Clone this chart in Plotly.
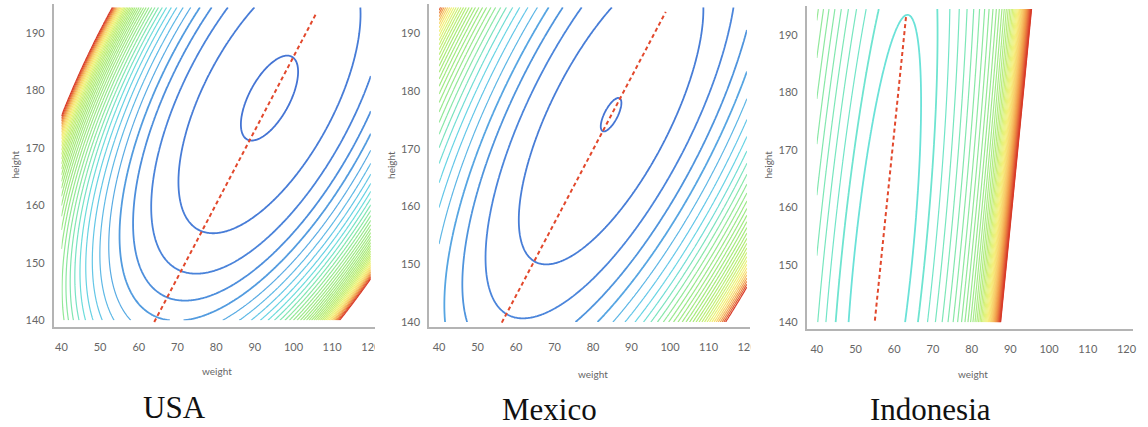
import numpy as np
import plotly.graph_objects as go

# ---------------- data ----------------
countries = ["USA", "Mexico", "Indonesia"]
weight_ticks = [40, 50, 60, 70, 80, 90, 100, 110, 120]
height_ticks = [140, 150, 160, 170, 180, 190]

grid_weight = [40.0, 120.0]
grid_height = [140.0, 194.5]

# surface parameters per country (USA, Mexico, Indonesia)
peak_weight = [93.8, 84.7, 57.1]
peak_height = [178.7, 175.9, 150.7]
ridge_slope = [0.62, 0.65, 0.148]        # kg per cm along the ridge
height_spread = [0.616, 0.4335, 0.0311]
inner_level = [33.7, 3.65, 57.0]
growth_scale = [1000.0, 1793.0, 0.0]     # 0 -> linear level spacing
level_step = [0.36, 0.174, 60.0]
outer_level = [2700.0, 3400.0, 3085.0]
wall_amp = [0.0, 0.0, 493.0]
wall_pos = [0.0, 0.0, 28.0]
wall_width = [1.0, 1.0, 2.8]

# dashed ridge lines (height, weight at both ends)
ridge_line_height = [[139.7, 193.6], [139.9, 193.7], [140.3, 193.5]]
ridge_line_weight = [[64.0, 106.0], [56.3, 98.9], [55.0, 63.1]]

# ---------------- style ----------------
W_PX, H_PX = 1148, 427
thick_levels = [5, 5, 2]
blue_to_red = [
    [0.00, '#4474d4'], [0.06, '#4a84da'], [0.10, '#5096de'], [0.14, '#5aaee4'],
    [0.19, '#64c8e8'], [0.24, '#6adce0'], [0.29, '#80e6b4'], [0.34, '#92e898'],
    [0.40, '#9ce888'], [0.55, '#a8ea78'], [0.68, '#c8f074'], [0.77, '#f2f478'],
    [0.85, '#f8d46a'], [0.92, '#f09848'], [1.00, '#d83a28']]
cyan_to_red = [
    [0.00, '#6ae2d8'], [0.05, '#74e6c4'], [0.12, '#88e8a6'], [0.20, '#9ae890'],
    [0.30, '#b4ec7c'], [0.38, '#e0f27a'], [0.46, '#f6f07c'], [0.60, '#f8c868'],
    [0.75, '#f09848'], [0.90, '#e2603a'], [1.00, '#d83a28']]
colorscales = [blue_to_red, blue_to_red, cyan_to_red]
# panel boxes in pixels: (left, right, top, bottom) and axis ranges
panel_px = [(54, 377, 4.5, 328), (431.7, 755, 4.4, 328), (811.7, 1140, 6.2, 330)]
x_ranges = [[38.0, 121.0], [37.4, 120.9], [37.4, 121.7]]
y_ranges = [[138.8, 195.0], [139.1, 195.0], [138.8, 195.0]]


def hex_rgb(h):
    h = h.lstrip('#')
    return [int(h[i:i + 2], 16) for i in (0, 2, 4)]


def color_at(stops, f):
    f = min(max(f, 0.0), 1.0)
    for (f0, c0), (f1, c1) in zip(stops[:-1], stops[1:]):
        if f <= f1:
            t = 0 if f1 == f0 else (f - f0) / (f1 - f0)
            a, b = hex_rgb(c0), hex_rgb(c1)
            r = [round(a[k] + (b[k] - a[k]) * t) for k in range(3)]
            return f'rgb({r[0]},{r[1]},{r[2]})'
    return stops[-1][1]


def sub_scale(stops, f0, f1, n=24):
    return [[j / (n - 1), color_at(stops, f0 + (f1 - f0) * j / (n - 1))] for j in range(n)]


wg = np.arange(grid_weight[0], grid_weight[1] + 1e-9, 0.25)
hg = np.arange(grid_height[0], grid_height[1] + 1e-9, 0.25)
WW, HH = np.meshgrid(wg, hg)


def surface(i):
    v = HH - peak_height[i]
    u = WW - peak_weight[i] - ridge_slope[i] * v
    F = u ** 2 + height_spread[i] * v ** 2
    if wall_amp[i] > 0:
        F = F + wall_amp[i] * np.exp(np.minimum((u - wall_pos[i]) / wall_width[i], 30))
    if growth_scale[i] > 0:
        s = growth_scale[i]
        z = np.exp(np.minimum((F - inner_level[i]) / s, 30))
        start = 1.0
        top = np.exp((outer_level[i] - inner_level[i]) / s)
    else:
        z = F
        start = inner_level[i]
        top = outer_level[i]
    z = np.minimum(z, top * 3)
    n = int(np.floor((top - start) / level_step[i] + 1e-9))
    return z.astype(np.float32), start, n


fig = go.Figure()
for i in range(3):
    z, start, n = surface(i)
    step = level_step[i]
    m = thick_levels[i]
    xa = 'x' if i == 0 else f'x{i + 1}'
    ya = 'y' if i == 0 else f'y{i + 1}'
    stops = colorscales[i]
    fig.add_trace(go.Contour(
        x=wg, y=hg, z=z, autocontour=False,
        contours=dict(start=start, end=start + (m - 1) * step, size=step, coloring='lines'),
        colorscale=sub_scale(stops, 0.0, (m - 1) / n), showscale=False,
        line=dict(width=1.8), xaxis=xa, yaxis=ya, hoverinfo='skip'))
    fig.add_trace(go.Contour(
        x=wg, y=hg, z=z, autocontour=False,
        contours=dict(start=start + m * step, end=start + n * step, size=step, coloring='lines'),
        colorscale=sub_scale(stops, m / n, 1.0), showscale=False,
        line=dict(width=1.2), xaxis=xa, yaxis=ya, hoverinfo='skip'))
    fig.add_trace(go.Scatter(
        x=ridge_line_weight[i], y=ridge_line_height[i], mode='lines',
        line=dict(color='#e2482c', width=2, dash='4px,3px'),
        xaxis=xa, yaxis=ya, hoverinfo='skip', showlegend=False))

tick_font = dict(family='Lato', size=11, color='#666666')
axis_common = dict(showline=True, linecolor='#b4b4b4', linewidth=1.6, showgrid=False,
                   zeroline=False, ticks='', tickfont=tick_font, fixedrange=True)
layout_axes = {}
annotations = []
shapes = []
label_font = dict(family='Lato', size=10, color='#666666')
for i in range(3):
    l, r, t, b = panel_px[i]
    sfx = '' if i == 0 else str(i + 1)
    layout_axes['xaxis' + sfx] = dict(axis_common, domain=[l / W_PX, r / W_PX], range=x_ranges[i],
                                      tickvals=weight_ticks, ticklabelstandoff=9,
                                      anchor='y' + sfx)
    layout_axes['yaxis' + sfx] = dict(axis_common, domain=[1 - b / H_PX, 1 - t / H_PX],
                                      range=y_ranges[i], tickvals=height_ticks,
                                      ticklabelstandoff=5, anchor='x' + sfx)
    cx = (l + r) / 2
    annotations.append(dict(text='weight', x=(cx + 3) / W_PX, y=1 - (372 if i == 0 else 375) / H_PX,
                            xref='paper', yref='paper', showarrow=False,
                            xanchor='center', yanchor='middle', font=label_font))
    annotations.append(dict(text='height', x=(l - 39) / W_PX, y=1 - 165 / H_PX, textangle=-90,
                            xref='paper', yref='paper', showarrow=False,
                            xanchor='center', yanchor='middle', font=label_font))
    annotations.append(dict(text=countries[i], x=(cx - 40) / W_PX,
                            y=1 - (408 if i == 0 else 410) / H_PX,
                            xref='paper', yref='paper', showarrow=False,
                            xanchor='center', yanchor='middle',
                            font=dict(family='Liberation Serif', size=31, color='#111111')))
    if i < 2:
        shapes.append(dict(type='rect', xref='paper', yref='paper', layer='above',
                           x0=r / W_PX, x1=(r + 12) / W_PX, y0=1 - 358 / H_PX, y1=1 - 334 / H_PX,
                           fillcolor='white', line=dict(width=0)))

fig.update_layout(width=W_PX, height=H_PX, margin=dict(l=0, r=0, t=0, b=0),
                  paper_bgcolor='white', plot_bgcolor='white', showlegend=False,
                  annotations=annotations, shapes=shapes, **layout_axes)
fig.write_html("out.html")
